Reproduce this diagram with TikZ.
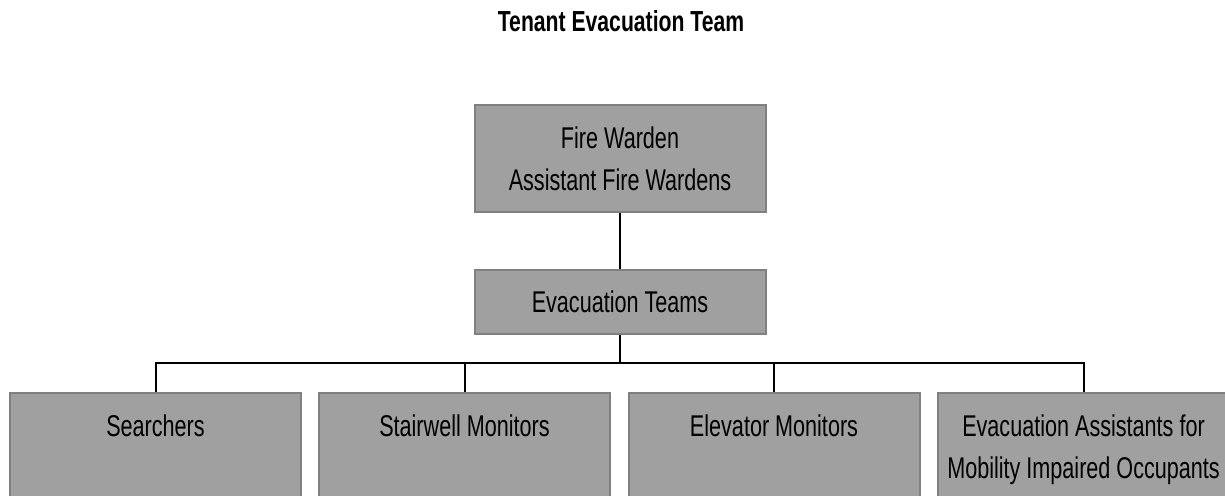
\documentclass[tikz,border=0pt]{standalone}
\usepackage{fontspec}
\setmainfont{Liberation Sans}
\newfontfamily\boxfont{Liberation Sans}[FakeStretch=0.72]
\newfontfamily\titlefont{Liberation Sans}[FakeStretch=0.73]
\definecolor{boxfill}{HTML}{A0A0A0}
\definecolor{boxedge}{HTML}{808080}
\usetikzlibrary{positioning, calc}

\begin{document}
\begin{tikzpicture}[
  x=1pt, y=1pt,
  every node/.style={font=\boxfont\fontsize{30}{42}\selectfont, text=black},
  orgbox/.style={fill=boxfill, draw=boxedge, line width=2pt, inner sep=0pt,
                 align=center, minimum width=291pt},
  teambox/.style={orgbox, anchor=north, text height=43pt, text depth=65pt},
  orgline/.style={black, line width=2pt}
]
  \useasboundingbox (0,0) rectangle (1225,495);
  \clip (0,0) rectangle (1225,495);

  % Title
  \node[font=\titlefont\bfseries\fontsize{29}{34}\selectfont, anchor=base] (title)
    at (621,463) {Tenant Evacuation Team};

  % Upper levels
  \node[orgbox, minimum height=107pt] (warden) at (620,336.5)
    {Fire Warden\\Assistant Fire Wardens};
  \node[orgbox, minimum height=64pt] (evac) at (620,193) {Evacuation Teams};

  % Team boxes (run off the bottom edge)
  \node[teambox] (searchers) at (155.5,103) {Searchers};
  \node[teambox] (stairwell) at (464.5,103) {Stairwell Monitors};
  \node[teambox] (elevator) at (774,103) {Elevator Monitors};
  \node[teambox, text height=85pt, text depth=23pt] (assist) at (1083.5,103)
    {Evacuation Assistants for\\Mobility Impaired Occupants};

  % Connectors
  \coordinate (bus) at (620,132);
  \draw[orgline] (warden.south) -- (evac.north);
  \draw[orgline] (evac.south) -- (bus);
  \draw[orgline] (searchers.north) |- (bus) -| (assist.north);
  \draw[orgline] (stairwell.north) -- (stairwell.north |- bus);
  \draw[orgline] (elevator.north) -- (elevator.north |- bus);
\end{tikzpicture}
\end{document}
